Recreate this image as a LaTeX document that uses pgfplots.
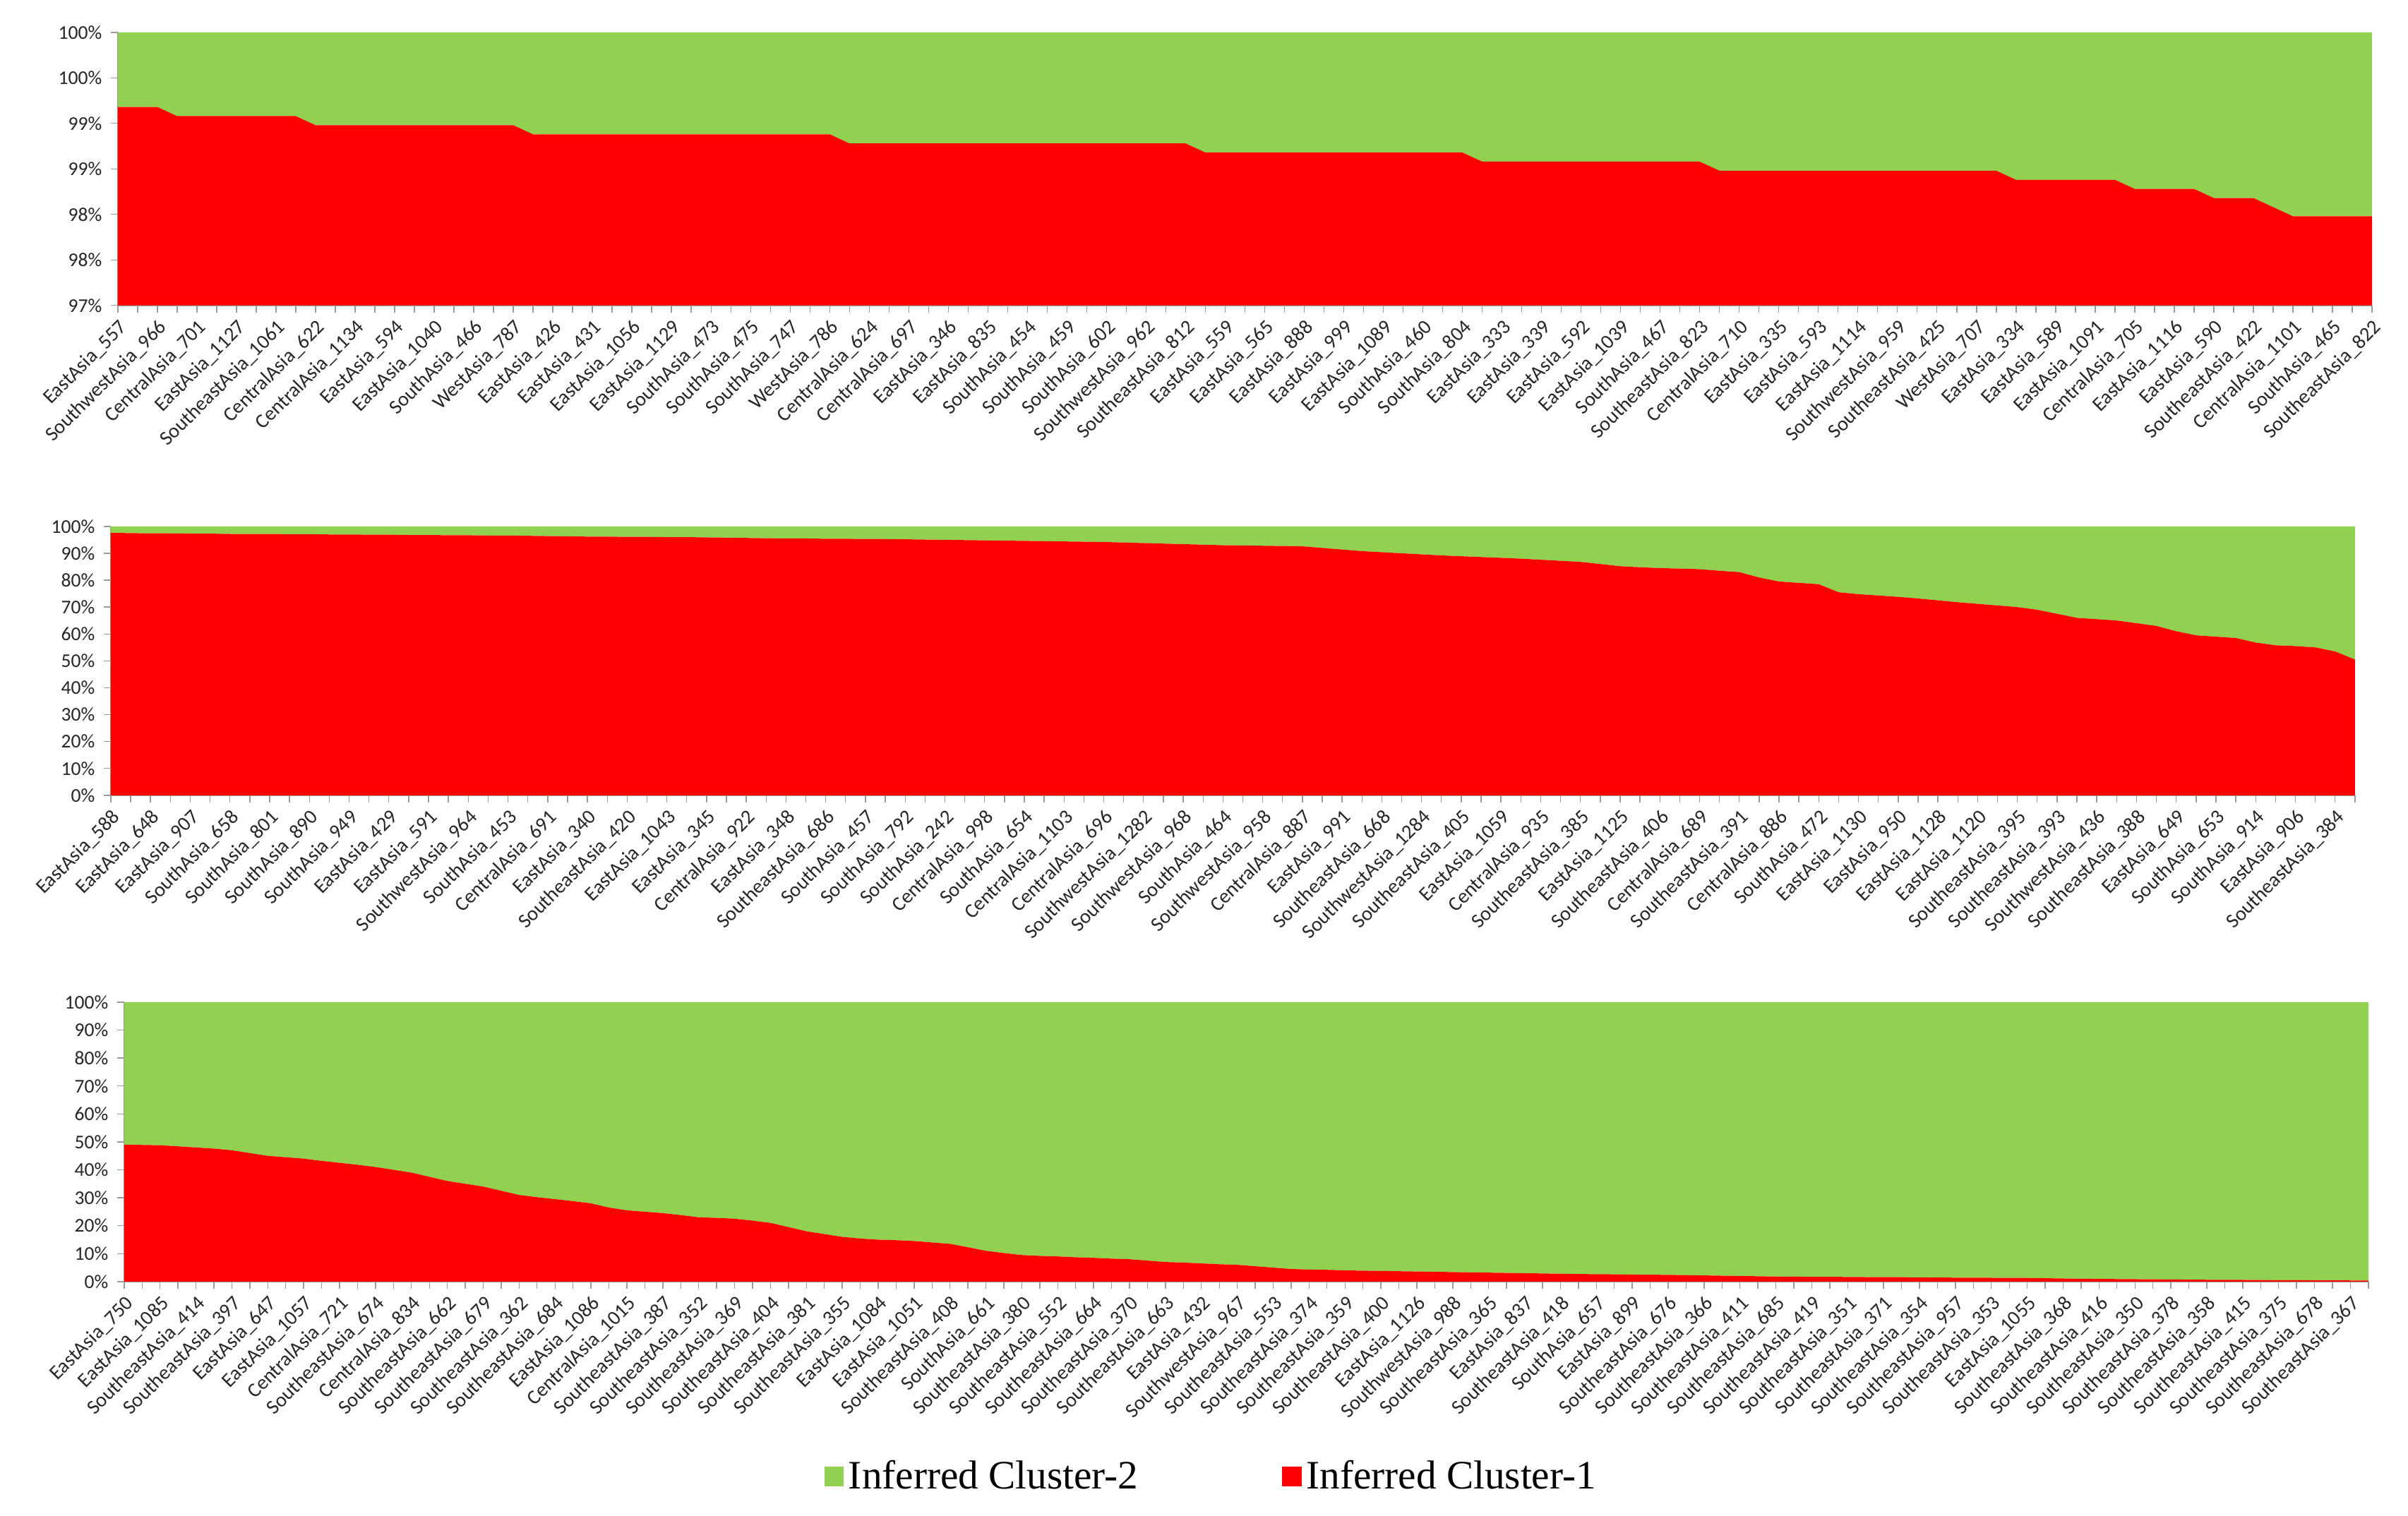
\documentclass[border=0pt]{standalone}
\usepackage{pgfplots}
\usepackage{pgfplotstable}
\pgfplotsset{compat=1.18}
\usepackage{fontspec}
\setmainfont{Carlito}
\newfontfamily\legendfont{Liberation Serif}
\definecolor{cgreen}{RGB}{146,208,80}
\definecolor{cred}{RGB}{255,0,0}

\pgfplotstableread{
a b
99.18 0.82
99.18 0.82
99.18 0.82
99.08 0.92
99.08 0.92
99.08 0.92
99.08 0.92
99.08 0.92
99.08 0.92
99.08 0.92
98.98 1.02
98.98 1.02
98.98 1.02
98.98 1.02
98.98 1.02
98.98 1.02
98.98 1.02
98.98 1.02
98.98 1.02
98.98 1.02
98.98 1.02
98.88 1.12
98.88 1.12
98.88 1.12
98.88 1.12
98.88 1.12
98.88 1.12
98.88 1.12
98.88 1.12
98.88 1.12
98.88 1.12
98.88 1.12
98.88 1.12
98.88 1.12
98.88 1.12
98.88 1.12
98.88 1.12
98.78 1.22
98.78 1.22
98.78 1.22
98.78 1.22
98.78 1.22
98.78 1.22
98.78 1.22
98.78 1.22
98.78 1.22
98.78 1.22
98.78 1.22
98.78 1.22
98.78 1.22
98.78 1.22
98.78 1.22
98.78 1.22
98.78 1.22
98.78 1.22
98.68 1.32
98.68 1.32
98.68 1.32
98.68 1.32
98.68 1.32
98.68 1.32
98.68 1.32
98.68 1.32
98.68 1.32
98.68 1.32
98.68 1.32
98.68 1.32
98.68 1.32
98.68 1.32
98.58 1.42
98.58 1.42
98.58 1.42
98.58 1.42
98.58 1.42
98.58 1.42
98.58 1.42
98.58 1.42
98.58 1.42
98.58 1.42
98.58 1.42
98.58 1.42
98.48 1.52
98.48 1.52
98.48 1.52
98.48 1.52
98.48 1.52
98.48 1.52
98.48 1.52
98.48 1.52
98.48 1.52
98.48 1.52
98.48 1.52
98.48 1.52
98.48 1.52
98.48 1.52
98.48 1.52
98.38 1.62
98.38 1.62
98.38 1.62
98.38 1.62
98.38 1.62
98.38 1.62
98.28 1.72
98.28 1.72
98.28 1.72
98.28 1.72
98.18 1.82
98.18 1.82
98.18 1.82
98.08 1.92
97.98 2.02
97.98 2.02
97.98 2.02
97.98 2.02
97.98 2.02
}\tA

\pgfplotstableread{
a b
97.6 2.4
97.5 2.5
97.4 2.6
97.4 2.6
97.3 2.7
97.3 2.7
97.2 2.8
97.2 2.8
97.2 2.8
97.1 2.9
97.1 2.9
97.0 3.0
97.0 3.0
96.9 3.1
96.9 3.1
96.8 3.2
96.8 3.2
96.7 3.3
96.7 3.3
96.6 3.4
96.6 3.4
96.5 3.5
96.4 3.6
96.3 3.7
96.2 3.8
96.2 3.8
96.1 3.9
96.1 3.9
96.0 4.0
96.0 4.0
95.9 4.1
95.8 4.2
95.7 4.3
95.6 4.4
95.5 4.5
95.5 4.5
95.4 4.6
95.4 4.6
95.3 4.7
95.3 4.7
95.2 4.8
95.1 4.9
95.0 5.0
94.9 5.1
94.8 5.2
94.7 5.3
94.6 5.4
94.5 5.5
94.4 5.6
94.3 5.7
94.2 5.8
94.0 6.0
93.8 6.2
93.6 6.4
93.4 6.6
93.2 6.8
93.0 7.0
92.9 7.1
92.8 7.2
92.7 7.3
92.6 7.4
92.0 8.0
91.4 8.6
90.8 9.2
90.4 9.6
90.0 10.0
89.6 10.4
89.2 10.8
88.9 11.1
88.6 11.4
88.3 11.7
88.0 12.0
87.6 12.4
87.2 12.8
86.8 13.2
86.0 14.0
85.2 14.8
84.8 15.2
84.5 15.5
84.3 15.7
84.1 15.9
83.5 16.5
83.0 17.0
81.0 19.0
79.5 20.5
79.0 21.0
78.5 21.5
75.5 24.5
74.8 25.2
74.3 25.7
73.8 26.2
73.2 26.8
72.5 27.5
71.8 28.2
71.2 28.8
70.6 29.4
70.0 30.0
69.0 31.0
67.5 32.5
66.0 34.0
65.5 34.5
65.0 35.0
64.0 36.0
63.0 37.0
61.0 39.0
59.5 40.5
59.0 41.0
58.5 41.5
56.8 43.2
55.8 44.2
55.5 44.5
55.0 45.0
53.5 46.5
50.5 49.5
}\tB

\pgfplotstableread{
a b
49.0 51.0
48.9 51.1
48.8 51.2
48.4 51.6
48.0 52.0
47.6 52.4
47.0 53.0
46.0 54.0
45.0 55.0
44.5 55.5
44.0 56.0
43.2 56.8
42.5 57.5
41.8 58.2
41.0 59.0
40.0 60.0
39.0 61.0
37.5 62.5
36.0 64.0
35.0 65.0
34.0 66.0
32.5 67.5
31.0 69.0
30.2 69.8
29.5 70.5
28.8 71.2
28.0 72.0
26.5 73.5
25.5 74.5
25.0 75.0
24.5 75.5
23.8 76.2
23.0 77.0
22.8 77.2
22.5 77.5
21.8 78.2
21.0 79.0
19.5 80.5
18.0 82.0
17.0 83.0
16.0 84.0
15.4 84.6
15.0 85.0
14.8 85.2
14.5 85.5
14.0 86.0
13.5 86.5
12.3 87.7
11.0 89.0
10.2 89.8
9.5 90.5
9.2 90.8
9.0 91.0
8.7 91.3
8.5 91.5
8.2 91.8
8.0 92.0
7.5 92.5
7.0 93.0
6.8 93.2
6.5 93.5
6.2 93.8
6.0 94.0
5.5 94.5
5.0 95.0
4.5 95.5
4.3 95.7
4.2 95.8
4.0 96.0
3.9 96.1
3.8 96.2
3.7 96.3
3.6 96.4
3.5 96.5
3.4 96.6
3.3 96.7
3.2 96.8
3.1 96.9
3.0 97.0
2.9 97.1
2.8 97.2
2.7 97.3
2.65 97.35
2.6 97.4
2.5 97.5
2.45 97.55
2.4 97.6
2.3 97.7
2.2 97.8
2.1 97.9
2.0 98.0
1.9 98.1
1.8 98.2
1.75 98.25
1.7 98.3
1.7 98.3
1.65 98.35
1.6 98.4
1.6 98.4
1.55 98.45
1.5 98.5
1.45 98.55
1.4 98.6
1.4 98.6
1.35 98.65
1.3 98.7
1.3 98.7
1.2 98.8
1.1 98.9
1.0 99.0
0.95 99.05
0.9 99.1
0.85 99.15
0.8 99.2
0.75 99.25
0.7 99.3
0.65 99.35
0.6 99.4
0.6 99.4
0.55 99.45
0.5 99.5
0.5 99.5
0.45 99.55
0.45 99.55
0.4 99.6
0.4 99.6
}\tC

\pgfplotsset{
  panel/.style={
    scale only axis,
    stack plots=y,
    enlarge x limits=false,
    axis x line*=bottom,
    axis y line*=left,
    axis line style={gray!80, line width=0.5pt},
    tick align=outside,
    major tick length=3pt,
    minor tick length=3pt,
    tick style={gray!80, line width=0.4pt},
    yticklabel style={font=\fontsize{8}{9}\selectfont, text=black!85},
    xticklabel style={font=\fontsize{8.3}{9}\selectfont, text=black!85, rotate=45, anchor=north east, inner sep=1.5pt},
    clip=true,
  },
}

\begin{document}
\begin{tikzpicture}
\useasboundingbox (0,0) rectangle (989.2pt,622.9pt);

% Panel 1
\begin{axis}[panel,
  at={(48.4pt,497.4pt)}, anchor=south west,
  width=926pt, height=112.2pt,
  xmin=0, xmax=114, ymin=97, ymax=100,
  ytick={97,97.5,98,98.5,99,99.5,100},
  yticklabels={97\%,98\%,98\%,99\%,99\%,100\%,100\%},
  xtick={0,2,...,114},
  minor xtick={1,3,...,113},
  xticklabels={EastAsia\_557,SouthwestAsia\_966,CentralAsia\_701,EastAsia\_1127,SoutheastAsia\_1061,CentralAsia\_622,CentralAsia\_1134,EastAsia\_594,EastAsia\_1040,SouthAsia\_466,WestAsia\_787,EastAsia\_426,EastAsia\_431,EastAsia\_1056,EastAsia\_1129,SouthAsia\_473,SouthAsia\_475,SouthAsia\_747,WestAsia\_786,CentralAsia\_624,CentralAsia\_697,EastAsia\_346,EastAsia\_835,SouthAsia\_454,SouthAsia\_459,SouthAsia\_602,SouthwestAsia\_962,SoutheastAsia\_812,EastAsia\_559,EastAsia\_565,EastAsia\_888,EastAsia\_999,EastAsia\_1089,SouthAsia\_460,SouthAsia\_804,EastAsia\_333,EastAsia\_339,EastAsia\_592,EastAsia\_1039,SouthAsia\_467,SoutheastAsia\_823,CentralAsia\_710,EastAsia\_335,EastAsia\_593,EastAsia\_1114,SouthwestAsia\_959,SoutheastAsia\_425,WestAsia\_707,EastAsia\_334,EastAsia\_589,EastAsia\_1091,CentralAsia\_705,EastAsia\_1116,EastAsia\_590,SoutheastAsia\_422,CentralAsia\_1101,SouthAsia\_465,SoutheastAsia\_822},
]
\addplot[fill=cred, draw=none] table[x expr=\coordindex, y=a] {\tA} \closedcycle;
\addplot[fill=cgreen, draw=none] table[x expr=\coordindex, y=b] {\tA} \closedcycle;
\end{axis}

% Panel 2
\begin{axis}[panel,
  at={(45.5pt,296.1pt)}, anchor=south west,
  width=921.9pt, height=110.5pt,
  xmin=0, xmax=113, ymin=0, ymax=100,
  ytick={0,10,...,100},
  yticklabels={0\%,10\%,20\%,30\%,40\%,50\%,60\%,70\%,80\%,90\%,100\%},
  xtick={0,2,...,112},
  minor xtick={1,3,...,113},
  xticklabels={EastAsia\_588,EastAsia\_648,EastAsia\_907,SouthAsia\_658,SouthAsia\_801,SouthAsia\_890,SouthAsia\_949,EastAsia\_429,EastAsia\_591,SouthwestAsia\_964,SouthAsia\_453,CentralAsia\_691,EastAsia\_340,SoutheastAsia\_420,EastAsia\_1043,EastAsia\_345,CentralAsia\_922,EastAsia\_348,SoutheastAsia\_686,SouthAsia\_457,SouthAsia\_792,SouthAsia\_242,CentralAsia\_998,SouthAsia\_654,CentralAsia\_1103,CentralAsia\_696,SouthwestAsia\_1282,SouthwestAsia\_968,SouthAsia\_464,SouthwestAsia\_958,CentralAsia\_887,EastAsia\_991,SoutheastAsia\_668,SouthwestAsia\_1284,SoutheastAsia\_405,EastAsia\_1059,CentralAsia\_935,SoutheastAsia\_385,EastAsia\_1125,SoutheastAsia\_406,CentralAsia\_689,SoutheastAsia\_391,CentralAsia\_886,SouthAsia\_472,EastAsia\_1130,EastAsia\_950,EastAsia\_1128,EastAsia\_1120,SoutheastAsia\_395,SoutheastAsia\_393,SouthwestAsia\_436,SoutheastAsia\_388,EastAsia\_649,SouthAsia\_653,SouthAsia\_914,EastAsia\_906,SoutheastAsia\_384},
]
\addplot[fill=cred, draw=none] table[x expr=\coordindex, y=a] {\tB} \closedcycle;
\addplot[fill=cgreen, draw=none] table[x expr=\coordindex, y=b] {\tB} \closedcycle;
\end{axis}

% Panel 3
\begin{axis}[panel,
  at={(51.0pt,96.3pt)}, anchor=south west,
  width=921.9pt, height=114.8pt,
  xmin=0, xmax=125, ymin=0, ymax=100,
  ytick={0,10,...,100},
  yticklabels={0\%,10\%,20\%,30\%,40\%,50\%,60\%,70\%,80\%,90\%,100\%},
  xtick={0,2,...,124},
  minor xtick={1,3,...,125},
  xticklabels={EastAsia\_750,EastAsia\_1085,SoutheastAsia\_414,SoutheastAsia\_397,EastAsia\_647,EastAsia\_1057,CentralAsia\_721,SoutheastAsia\_674,CentralAsia\_834,SoutheastAsia\_662,SoutheastAsia\_679,SoutheastAsia\_362,SoutheastAsia\_684,EastAsia\_1086,CentralAsia\_1015,SoutheastAsia\_387,SoutheastAsia\_352,SoutheastAsia\_369,SoutheastAsia\_404,SoutheastAsia\_381,SoutheastAsia\_355,EastAsia\_1084,EastAsia\_1051,SoutheastAsia\_408,SouthAsia\_661,SoutheastAsia\_380,SoutheastAsia\_552,SoutheastAsia\_664,SoutheastAsia\_370,SoutheastAsia\_663,EastAsia\_432,SouthwestAsia\_967,SoutheastAsia\_553,SoutheastAsia\_374,SoutheastAsia\_359,SoutheastAsia\_400,EastAsia\_1126,SouthwestAsia\_988,SoutheastAsia\_365,EastAsia\_837,SoutheastAsia\_418,SouthAsia\_657,EastAsia\_899,SoutheastAsia\_676,SoutheastAsia\_366,SoutheastAsia\_411,SoutheastAsia\_685,SoutheastAsia\_419,SoutheastAsia\_351,SoutheastAsia\_371,SoutheastAsia\_354,SoutheastAsia\_957,SoutheastAsia\_353,EastAsia\_1055,SoutheastAsia\_368,SoutheastAsia\_416,SoutheastAsia\_350,SoutheastAsia\_378,SoutheastAsia\_358,SoutheastAsia\_415,SoutheastAsia\_375,SoutheastAsia\_678,SoutheastAsia\_367},
  legend style={at={(0.485,-0.697)}, anchor=center, draw=none, fill=none,
    legend columns=2, font=\legendfont\fontsize{16.6}{18}\selectfont,
    /tikz/every even column/.append style={column sep=57pt},
    nodes={inner sep=2pt}},
  reverse legend,
  legend image code/.code={\fill[#1] (0pt,-4pt) rectangle (8pt,4pt);},
]
\addplot[fill=cred, draw=none] table[x expr=\coordindex, y=a] {\tC} \closedcycle;
\addlegendentry{Inferred Cluster-1}
\addplot[fill=cgreen, draw=none] table[x expr=\coordindex, y=b] {\tC} \closedcycle;
\addlegendentry{Inferred Cluster-2}
\end{axis}
\end{tikzpicture}
\end{document}
